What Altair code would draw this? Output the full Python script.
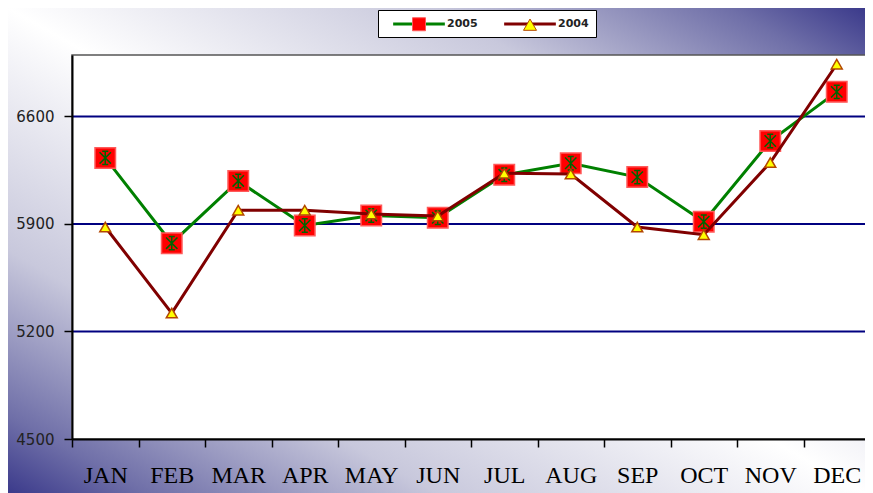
import altair as alt
import pandas as pd

months = ["JAN", "FEB", "MAR", "APR", "MAY", "JUN", "JUL", "AUG", "SEP", "OCT", "NOV", "DEC"]
sales_2005 = [6330, 5775, 6180, 5890, 5955, 5940, 6220, 6295, 6205, 5915, 6440, 6760]
sales_2004 = [5880, 5320, 5990, 5990, 5965, 5952, 6230, 6225, 5880, 5830, 6300, 6940]
series_names = ["2005", "2004"]
y_ticks = [4500, 5200, 5900, 6600]
grid_values = [5200, 5900, 6600]

df = pd.DataFrame({
    "month": months * 2,
    "value": sales_2005 + sales_2004,
    "series": ["2005"] * 12 + ["2004"] * 12,
})
df["marker"] = df["series"]
grid_df = pd.DataFrame({"value": grid_values})
one = pd.DataFrame({"k": [0]})

W, H = 793, 384
XR = 798  # x range runs a little past the visible page edge, as in the reference
PAD = {"left": 64, "top": 47, "right": 0, "bottom": 54}

ASTER = "M-0.45,-1H0.45M-0.45,1H0.45M0,-1V1M-0.85,-0.85L0.85,0.85M-0.85,0.85L0.85,-0.85"
LINE_SYMBOL = "M-4.7,0H4.7"

x_enc = alt.X("month:N", sort=months,
              scale=alt.Scale(type="band", paddingInner=0, paddingOuter=0, range=[0, XR]),
              axis=alt.Axis(title=None, labelAngle=0, tickBand="extent",
                            labelFont="Liberation Serif", labelFontSize=24,
                            labelColor="black", labelPadding=16, tickSize=8,
                            tickColor="black", tickWidth=1.5, domainColor="black",
                            domainWidth=2, grid=False, zindex=1))
y_enc = alt.Y("value:Q", scale=alt.Scale(domain=[4500, 7000], nice=False, zero=False),
              axis=alt.Axis(title=None, values=y_ticks, format="d", grid=False,
                            labelFont="DejaVu Sans", labelFontSize=15, labelColor="#222",
                            labelPadding=10, tickSize=8, tickColor="black", tickWidth=1.5,
                            domainColor="black", domainWidth=2, zindex=1))

L1 = alt.Legend(title=None, orient="none", legendX=306, legendY=-45, direction="horizontal",
                values=series_names, symbolType=LINE_SYMBOL, symbolSize=121, symbolStrokeWidth=3,
                symbolOffset=27, labelFont="DejaVu Sans", labelFontSize=11, labelFontWeight="bold",
                labelColor="#222", labelOffset=21, columnPadding=18, padding=7,
                fillColor="white", strokeColor="black", zindex=1)
L2 = alt.Legend(title=None, orient="none", legendX=306, legendY=-45, direction="horizontal",
                symbolSize=169, symbolStrokeWidth=1, symbolOffset=27,
                labelFont="DejaVu Sans", labelFontSize=11, labelExpr="''",
                labelOffset=21, columnPadding=49, padding=7, zindex=2)

gradient = {
    "gradient": "linear", "x1": 0, "y1": 1, "x2": 1, "y2": 0,
    "stops": [
        {"offset": 0.0, "color": "#3b3a8b"},
        {"offset": 0.08, "color": "#6f6fa8"},
        {"offset": 0.25, "color": "#c8c8dc"},
        {"offset": 0.5, "color": "#ffffff"},
        {"offset": 0.75, "color": "#c8c8dc"},
        {"offset": 0.92, "color": "#6f6fa8"},
        {"offset": 1.0, "color": "#3b3a8b"},
    ],
}

bg = alt.Chart(one).mark_rect(fill=gradient).encode(
    x=alt.value(-PAD["left"]), x2=alt.value(W),
    y=alt.value(-PAD["top"]), y2=alt.value(H + PAD["bottom"]))

plot_bg = alt.Chart(one).mark_rect(fill="white", stroke="#555555", strokeWidth=1.5).encode(
    x=alt.value(0), x2=alt.value(XR), y=alt.value(0), y2=alt.value(H))

grid = alt.Chart(grid_df).mark_rule(color="#000080", strokeWidth=2).encode(
    y=y_enc, x=alt.value(0), x2=alt.value(XR))

color_enc = alt.Color("series:N", scale=alt.Scale(range=["#800000", "#008000"]), legend=L1)
shape_enc = alt.Shape("marker:N", scale=alt.Scale(domain=series_names, range=["square", "triangle-up"]), legend=L2)
fill_enc = alt.Fill("marker:N", scale=alt.Scale(domain=series_names, range=["#ff0000", "#ffff00"]), legend=L2)
stroke_enc = alt.Stroke("marker:N", scale=alt.Scale(domain=series_names, range=["#ff5a5a", "#b34700"]), legend=L2)

line05 = alt.Chart(df).transform_filter(alt.datum.series == "2005").mark_line(strokeWidth=3).encode(
    x=x_enc, y=y_enc, color=color_enc)
sq05 = alt.Chart(df).transform_filter(alt.datum.series == "2005").mark_point(
    filled=True, size=420, strokeWidth=1.5, opacity=1).encode(
    x=x_enc, y=y_enc, shape=shape_enc, fill=fill_enc, stroke=stroke_enc)
ast05 = alt.Chart(df).transform_filter(alt.datum.series == "2005").mark_point(
    shape=ASTER, size=180, filled=False, strokeWidth=1.5, opacity=1).encode(
    x=x_enc, y=y_enc, stroke=alt.value("#006400"))
line04 = alt.Chart(df).transform_filter(alt.datum.series == "2004").mark_line(strokeWidth=3).encode(
    x=x_enc, y=y_enc, color=color_enc)
tri04 = alt.Chart(df).transform_filter(alt.datum.series == "2004").mark_point(
    filled=True, size=120, strokeWidth=1.5, opacity=1).encode(
    x=x_enc, y=y_enc, shape=shape_enc, fill=fill_enc, stroke=stroke_enc)

chart = alt.layer(bg, plot_bg, grid, line05, sq05, ast05, line04, tri04).properties(
    width=W, height=H, padding=PAD, background="white",
    autosize=alt.AutoSizeParams(type="none"),
).configure_view(strokeWidth=0)

chart.save("out.html", embed_options={"renderer": "svg", "actions": False})
